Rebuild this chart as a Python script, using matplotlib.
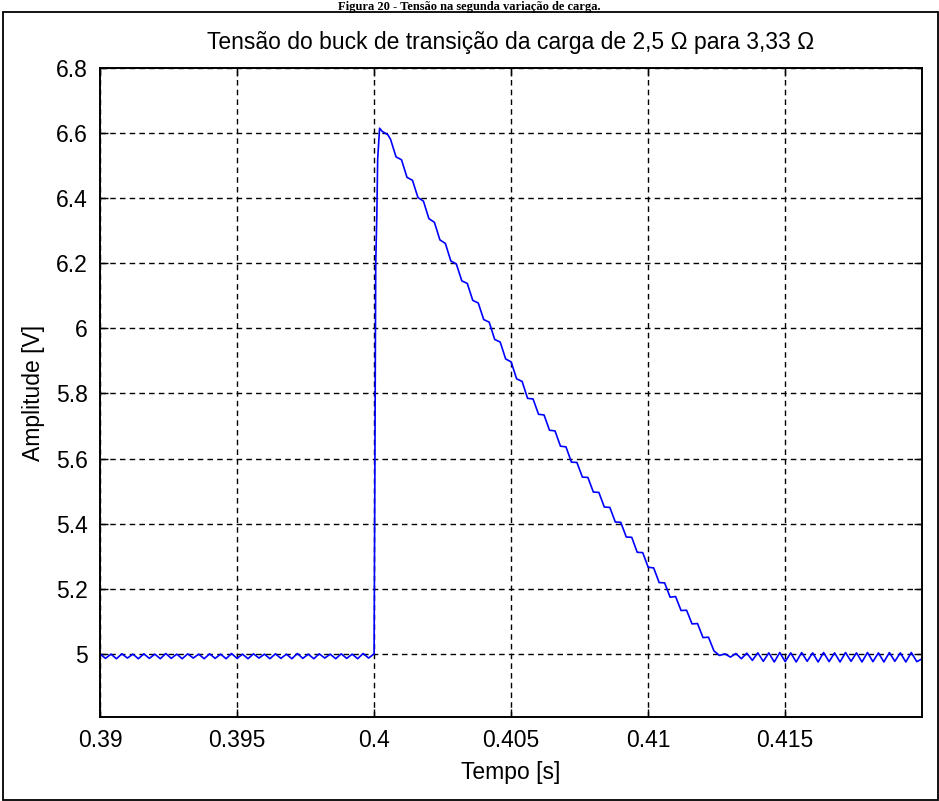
import matplotlib
matplotlib.use("Agg")
import matplotlib.pyplot as plt
from matplotlib.patches import Rectangle
import numpy as np

plt.rcParams['font.family'] = ['Liberation Sans', 'DejaVu Sans']

# steady state before the load step (2,5 ohm)
t_pre = [0.3900, 0.3902, 0.3904, 0.3906, 0.3908, 0.3910, 0.3912, 0.3914, 0.3916, 0.3918,
         0.3920, 0.3922, 0.3924, 0.3926, 0.3928, 0.3930, 0.3932, 0.3934, 0.3936, 0.3938,
         0.3940, 0.3942, 0.3944, 0.3946, 0.3948, 0.3950, 0.3952, 0.3954, 0.3956, 0.3958,
         0.3960, 0.3962, 0.3964, 0.3966, 0.3968, 0.3970, 0.3972, 0.3974, 0.3976, 0.3978,
         0.3980, 0.3982, 0.3984, 0.3986, 0.3988, 0.3990, 0.3992, 0.3994, 0.3996, 0.3998,
         0.4000]
v_pre = [5.000, 4.986, 4.999, 4.985, 5.000, 4.987, 4.999, 4.985, 5.000, 4.986,
         4.999, 4.985, 5.001, 4.986, 4.999, 4.985, 5.000, 4.987, 4.999, 4.985,
         5.000, 4.986, 4.999, 4.985, 5.001, 4.986, 4.999, 4.985, 5.000, 4.987,
         4.999, 4.985, 5.000, 4.986, 4.999, 4.985, 5.001, 4.986, 4.999, 4.985,
         5.000, 4.987, 4.999, 4.985, 5.000, 4.986, 4.999, 4.985, 5.001, 4.987,
         5.000]

# overshoot right after the step
t_rise = [0.40003, 0.40006, 0.40010, 0.40013, 0.40020, 0.40030, 0.40040, 0.40050]
v_rise = [5.600, 6.200, 6.350, 6.520, 6.615, 6.605, 6.600, 6.595]

# discharge back to the 5 V reference
t_fall = [0.4006, 0.4008, 0.4010, 0.4012, 0.4014, 0.4016, 0.4018, 0.4020, 0.4022, 0.4024,
          0.4026, 0.4028, 0.4030, 0.4032, 0.4034, 0.4036, 0.4038, 0.4040, 0.4042, 0.4044,
          0.4046, 0.4048, 0.4050, 0.4052, 0.4054, 0.4056, 0.4058, 0.4060, 0.4062, 0.4064,
          0.4066, 0.4068, 0.4070, 0.4072, 0.4074, 0.4076, 0.4078, 0.4080, 0.4082, 0.4084,
          0.4086, 0.4088, 0.4090, 0.4092, 0.4094, 0.4096, 0.4098, 0.4100, 0.4102, 0.4104,
          0.4106, 0.4108, 0.4110, 0.4112, 0.4114, 0.4116, 0.4118, 0.4120, 0.4122, 0.4124,
          0.4126]
v_fall = [6.581, 6.527, 6.518, 6.464, 6.455, 6.402, 6.391, 6.337, 6.326, 6.272,
          6.261, 6.207, 6.198, 6.146, 6.138, 6.086, 6.078, 6.027, 6.019, 5.966,
          5.958, 5.906, 5.897, 5.845, 5.837, 5.785, 5.783, 5.736, 5.734, 5.687,
          5.685, 5.638, 5.636, 5.589, 5.588, 5.543, 5.542, 5.497, 5.496, 5.451,
          5.450, 5.405, 5.404, 5.359, 5.358, 5.312, 5.311, 5.266, 5.264, 5.219,
          5.218, 5.174, 5.176, 5.133, 5.134, 5.092, 5.093, 5.050, 5.051, 5.009,
          4.995]

# new steady state (3,33 ohm)
t_post = [0.4128, 0.4130, 0.4132, 0.4134, 0.4136, 0.4138, 0.4140, 0.4142, 0.4144, 0.4146,
          0.4148, 0.4150, 0.4152, 0.4154, 0.4156, 0.4158, 0.4160, 0.4162, 0.4164, 0.4166,
          0.4168, 0.4170, 0.4172, 0.4174, 0.4176, 0.4178, 0.4180, 0.4182, 0.4184, 0.4186,
          0.4188, 0.4190, 0.4192, 0.4194, 0.4196, 0.4198, 0.4200]
v_post = [5.000, 4.990, 5.001, 4.985, 5.002, 4.980, 5.003, 4.977, 5.003, 4.975,
          5.004, 4.976, 5.003, 4.975, 5.004, 4.977, 5.003, 4.975, 5.004, 4.976,
          5.003, 4.975, 5.004, 4.977, 5.003, 4.975, 5.004, 4.976, 5.003, 4.975,
          5.004, 4.977, 5.003, 4.975, 5.004, 4.976, 4.985]

x_ticks = [0.39, 0.395, 0.4, 0.405, 0.41, 0.415]
x_tick_labels = ['0.39', '0.395', '0.4', '0.405', '0.41', '0.415']
y_ticks = [5.0, 5.2, 5.4, 5.6, 5.8, 6.0, 6.2, 6.4, 6.6, 6.8]
y_tick_labels = ['5', '5.2', '5.4', '5.6', '5.8', '6', '6.2', '6.4', '6.6', '6.8']

t = np.concatenate([t_pre, t_rise, t_fall, t_post])
v = np.concatenate([v_pre, v_rise, v_fall, v_post])

fig = plt.figure(figsize=(9.39, 8.01), dpi=100)
ax = fig.add_axes([0.1065, 0.1049, 0.8754, 0.8102])

ax.plot(t, v, color='#0000ff', linewidth=1.2)

ax.set_xlim(0.39, 0.41999)
ax.set_ylim(4.806, 6.8)
ax.set_xticks(x_ticks)
ax.set_xticklabels(x_tick_labels)
ax.set_yticks(y_ticks)
ax.set_yticklabels(y_tick_labels)

ax.grid(True, color='black', linestyle=(0, (4, 3)), linewidth=1.0)
ax.tick_params(direction='in', length=6, width=1, top=True, right=True,
               labelsize=16.5, pad=9)
for s in ax.spines.values():
    s.set_linewidth(1.4)

ax.set_title(u'Tensão do buck de transição da carga de 2,5 \u03A9 para 3,33 \u03A9',
             fontsize=16.5, pad=14)
ax.set_xlabel('Tempo [s]', fontsize=16.5, labelpad=6)
ax.set_ylabel('Amplitude [V]', fontsize=16.5, labelpad=8)

# outer frame and the figure caption above it
fig.patches.append(Rectangle((0.0035, 0.0015), 0.9955, 0.9835, transform=fig.transFigure,
                             fill=False, edgecolor='black', linewidth=1.3))
fig.text(0.50, 0.9985, u'Figura 20 - Tensão na segunda variação de carga.',
         ha='center', va='top', fontsize=9, fontweight='bold',
         family=['Liberation Serif', 'DejaVu Serif'])

fig.savefig('out.png', dpi=100)
